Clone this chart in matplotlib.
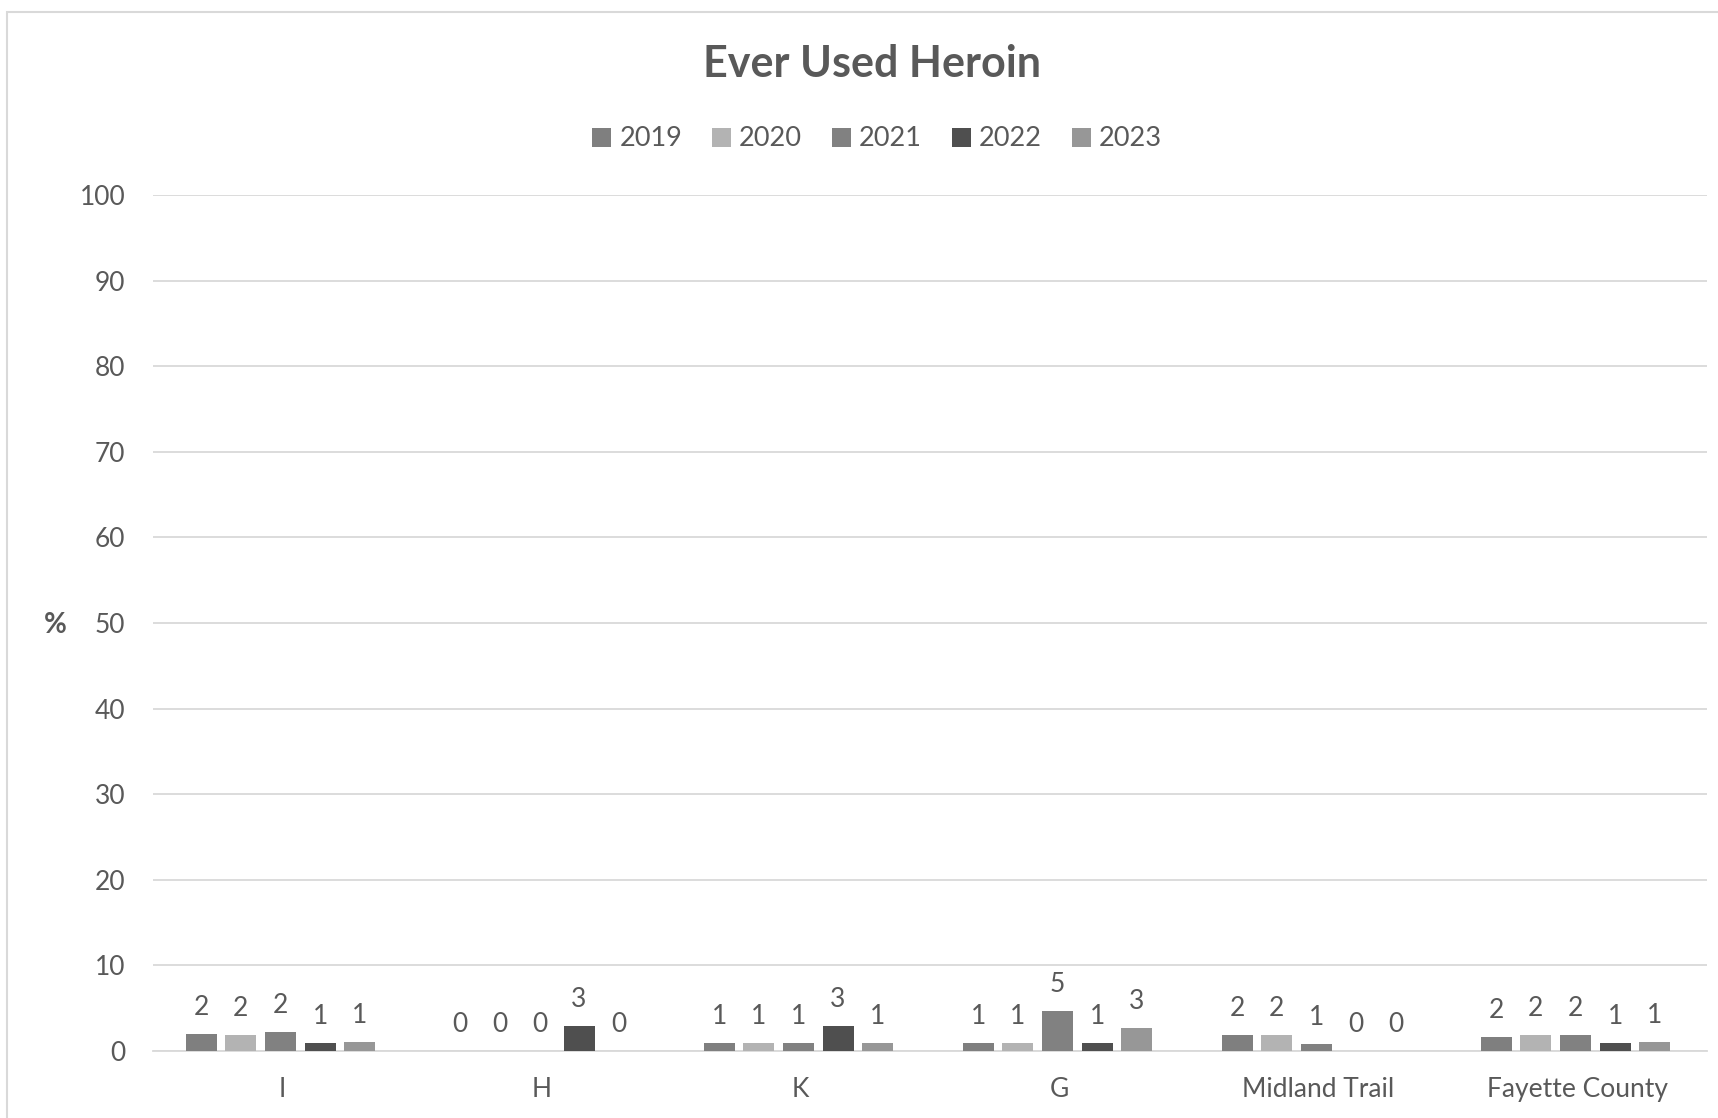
import numpy as np
import matplotlib.pyplot as plt
from matplotlib.patches import Rectangle

plt.rcParams['font.family'] = ['Lato', 'DejaVu Sans']

# data
categories = ['I', 'H', 'K', 'G', 'Midland Trail', 'Fayette County']
years = ['2019', '2020', '2021', '2022', '2023']
v2019 = [1.95, 0, 0.9, 0.9, 1.9, 1.6]
v2020 = [1.9, 0, 0.9, 0.9, 1.9, 1.9]
v2021 = [2.2, 0, 0.9, 4.7, 0.8, 1.9]
v2022 = [0.9, 2.9, 2.9, 0.9, 0, 0.9]
v2023 = [1.1, 0, 0.9, 2.65, 0, 1.0]
series = [v2019, v2020, v2021, v2022, v2023]
colors = ['#7f7f7f', '#b3b3b3', '#818181', '#4f4f4f', '#979797']

txt = '#595959'
grid = '#d9d9d9'

W, H = 1718, 1118
fig = plt.figure(figsize=(W/100, H/100), dpi=100)
ax = fig.add_axes([153/W, 1-1051/H, (1707-153)/W, (1051-195)/H])

x = np.arange(len(categories))
bw = 0.12
pitch = 0.153
for i, (vals, c, yr) in enumerate(zip(series, colors, years)):
    pos = x + (i-2)*pitch - 0.008
    ax.bar(pos, vals, bw, color=c, label=yr, zorder=3)
    for xp, v in zip(pos, vals):
        ax.text(xp, v + 3.1, '%d' % round(v), ha='center', va='center',
                fontsize=19, color=txt)

ax.set_xlim(-0.5, len(categories)-0.5)
ax.set_ylim(0, 100)
ax.set_yticks(np.arange(0, 101, 10))
ax.set_xticks(x)
ax.set_xticklabels(categories)
ax.tick_params(axis='both', length=0, labelsize=19, labelcolor=txt)
ax.tick_params(axis='x', pad=19)
ax.tick_params(axis='y', pad=20)
ax.grid(axis='y', color=grid, linewidth=1.3, zorder=0)
for s in ['top', 'right', 'left']:
    ax.spines[s].set_visible(False)
ax.spines['bottom'].set_color(grid)
ax.spines['bottom'].set_linewidth(1.3)

fig.text(55/W, 1-625/H, '%', fontsize=20, fontweight='bold', color=txt,
         ha='center', va='center')
fig.text(0.5075, 1-64/H, 'Ever Used Heroin', fontsize=31, fontweight='bold',
         color=txt, ha='center', va='center')
fig.legend(loc='center', bbox_to_anchor=(0.5105, 1-139/H), ncol=5,
           frameon=False, fontsize=19.5, labelcolor=txt, handlelength=0.7,
           handleheight=0.7, handletextpad=0.3, columnspacing=1.1)

# light chart border
fig.patches.append(Rectangle((7/W, -0.1), 1.2, 1-12/H+0.1,
                             transform=fig.transFigure, fill=False,
                             edgecolor=grid, linewidth=1.5))

fig.savefig('out.png', dpi=100)
